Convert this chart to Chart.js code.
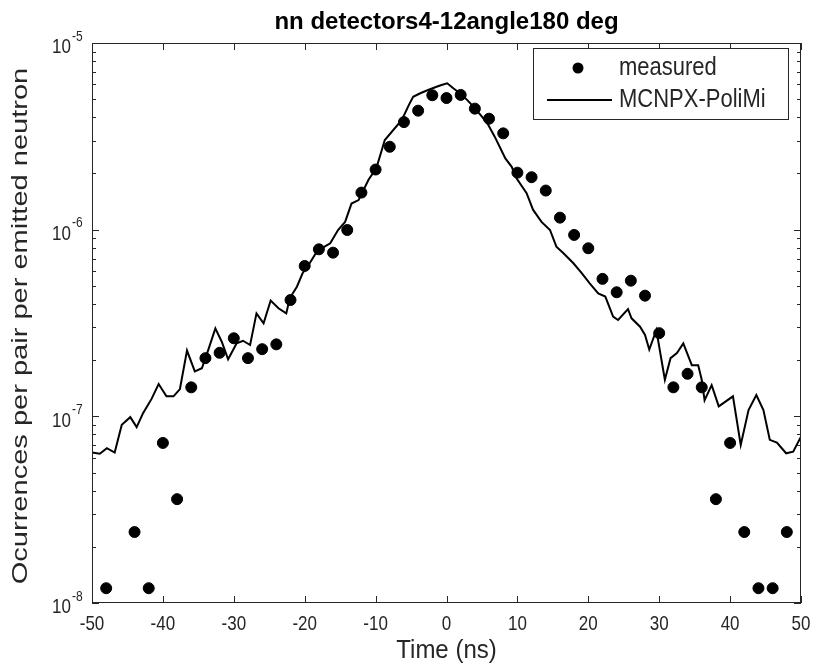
<!DOCTYPE html>
<html>
<head>
<meta charset="utf-8">
<script src="https://cdn.jsdelivr.net/npm/chart.js@4.4.1/dist/chart.umd.min.js"></script>
<style>
  body { margin: 0; background: #fff; }
  #wrap { width: 817px; height: 670px; }
</style>
</head>
<body>
<div id="wrap"><canvas id="tofChart" width="817" height="670"></canvas></div>
<script>
// measured points (every 2 ns, empty bins not shown on log axis)
const measuredTime = [-48, -44, -42, -40, -38, -36, -34, -32, -30, -28, -26, -24, -22,
    -20, -18, -16, -14, -12, -10, -8, -6, -4, -2, 0, 2, 4, 6, 8, 10, 12, 14, 16, 18, 20,
    22, 24, 26, 28, 30, 32, 34, 36, 38, 40, 42, 44, 46, 48]
const measuredValue = [1.2e-8, 2.4e-8, 1.2e-8, 7.2e-8, 3.6e-8, 1.43e-7, 2.05e-7, 2.19e-7, 2.62e-7, 2.05e-7, 2.29e-7, 2.43e-7, 4.2e-7,
    6.39e-7, 7.85e-7, 7.53e-7, 9.96e-7, 1.58e-6, 2.10e-6, 2.78e-6, 3.77e-6, 4.34e-6, 5.25e-6, 5.07e-6, 5.27e-6, 4.45e-6, 3.93e-6, 3.28e-6, 2.02e-6, 1.91e-6, 1.62e-6, 1.16e-6, 9.37e-7, 7.95e-7,
    5.45e-7, 4.62e-7, 5.33e-7, 4.43e-7, 2.79e-7, 1.43e-7, 1.69e-7, 1.43e-7, 3.6e-8, 7.2e-8, 2.4e-8, 1.2e-8, 1.2e-8, 2.4e-8]

// simulation curve
const simTime = [-50, -48.9, -47.9, -46.8, -45.8, -44.6, -43.7, -42.8, -41.6, -40.6, -39.5, -38.5, -37.6, -36.6, -35.5, -34.5,
    -33.6, -32.6, -31.7, -30.8, -29.6, -28.7, -27.7, -26.8, -25.8, -24.8, -23.7, -22.6, -22.1, -21.1, -20.3, -19.3,
    -18.3, -17.2, -16.4, -15.3, -14.3, -13.4, -12.4, -11.0, -9.9, -8.7, -6.3, -5.3, -4.7, -3.7, -2.6, -1.4, -0.7,
    0.1, 1.0, 1.9, 2.9, 3.8, 5.0, 5.9, 6.8, 7.6, 8.3, 9.2, 9.9, 11.3, 12.2, 13.4, 14.6, 15.5, 16.5, 17.9, 19.1,
    20.2, 21.4, 22.4, 23.5, 24.2, 25.6, 26.1, 27.3, 28.0, 28.6, 29.6, 30.8, 31.6, 32.5, 33.4, 34.6, 35.5, 36.0,
    36.4, 37.4, 38.4, 40.4, 41.5, 42.6, 43.7, 44.7, 45.6, 46.6, 47.9, 48.9, 50]
const simValue = [6.4e-8, 6.3e-8, 6.75e-8, 6.4e-8, 9.0e-8, 9.9e-8, 8.75e-8, 1.04e-7, 1.24e-7, 1.49e-7, 1.28e-7, 1.28e-7, 1.40e-7, 2.25e-7, 1.74e-7, 1.81e-7,
    2.27e-7, 2.96e-7, 2.51e-7, 2.02e-7, 2.46e-7, 2.54e-7, 2.41e-7, 3.56e-7, 3.15e-7, 4.17e-7, 3.79e-7, 3.56e-7, 4.30e-7, 4.95e-7, 5.84e-7, 6.61e-7,
    7.62e-7, 8.11e-7, 8.45e-7, 9.96e-7, 1.10e-6, 1.38e-6, 1.44e-6, 1.85e-6, 2.13e-6, 3.02e-6, 3.87e-6, 4.66e-6, 5.15e-6, 5.38e-6, 5.60e-6, 5.83e-6, 5.96e-6,
    6.08e-6, 5.71e-6, 5.38e-6, 4.96e-6, 4.56e-6, 4.03e-6, 3.64e-6, 3.15e-6, 2.73e-6, 2.41e-6, 2.17e-6, 1.88e-6, 1.57e-6, 1.28e-6, 1.10e-6, 9.96e-7, 8.11e-7, 7.48e-7, 6.61e-7, 5.84e-7,
    5.16e-7, 4.56e-7, 4.38e-7, 3.42e-7, 3.28e-7, 3.75e-7, 3.35e-7, 3.02e-7, 2.73e-7, 2.28e-7, 2.90e-7, 1.57e-7, 2.05e-7, 2.18e-7, 2.46e-7, 1.88e-7, 1.88e-7, 1.57e-7,
    1.22e-7, 1.47e-7, 1.13e-7, 1.28e-7, 7.03e-8, 1.08e-7, 1.30e-7, 1.08e-7, 7.48e-8, 7.23e-8, 6.34e-8, 6.47e-8, 7.78e-8]

const xTicks = [-50, -40, -30, -20, -10, 0, 10, 20, 30, 40, 50]
const yDecades = [1e-8, 1e-7, 1e-6, 1e-5]
const seriesNames = ['measured', 'MCNPX-PoliMi']

const axisColor = '#262626'
const fontFamily = '"Liberation Sans", Arial, Helvetica, sans-serif'
// the reference figure is stretched vertically, text looks tall and narrow
const stretch = 1.2

function setFont(ctx, size, bold) {
    ctx.font = (bold ? 'bold ' : '') + size + 'px ' + fontFamily
}

function tallText(ctx, text, x, y, sy) {
    ctx.save()
    ctx.translate(x, y)
    ctx.scale(1, sy)
    ctx.fillText(text, 0, 0)
    ctx.restore()
}

// matlab-like axes: box, inward ticks, labels, title, legend
const matlabAxes = {
    id: 'matlabAxes',
    beforeDraw(chart) {
        const ctx = chart.ctx
        ctx.save()
        ctx.fillStyle = '#fff'
        ctx.fillRect(0, 0, chart.width, chart.height)
        ctx.restore()
    },
    afterDatasetsDraw(chart) {
        const ctx = chart.ctx
        const a = chart.chartArea
        const xs = chart.scales.x
        const ys = chart.scales.y
        ctx.save()
        ctx.strokeStyle = axisColor
        ctx.lineWidth = 1

        // box
        ctx.strokeRect(Math.round(a.left) + 0.5, Math.round(a.top) + 0.5,
            Math.round(a.right - a.left) - 1, Math.round(a.bottom - a.top) - 1)

        ctx.beginPath()
        xTicks.forEach(v => {
            const px = Math.round(xs.getPixelForValue(v)) + 0.5
            ctx.moveTo(px, a.bottom); ctx.lineTo(px, a.bottom - 7)
            ctx.moveTo(px, a.top); ctx.lineTo(px, a.top + 7)
        })
        yDecades.forEach((d, i) => {
            const py = Math.round(ys.getPixelForValue(d)) + 0.5
            ctx.moveTo(a.left, py); ctx.lineTo(a.left + 7, py)
            ctx.moveTo(a.right, py); ctx.lineTo(a.right - 7, py)
            if (i < yDecades.length - 1) {
                for (let m = 2; m <= 9; m++) {
                    const pm = Math.round(ys.getPixelForValue(d * m)) + 0.5
                    ctx.moveTo(a.left, pm); ctx.lineTo(a.left + 4, pm)
                    ctx.moveTo(a.right, pm); ctx.lineTo(a.right - 4, pm)
                }
            }
        })
        ctx.stroke()

        // tick labels
        ctx.fillStyle = axisColor
        ctx.textBaseline = 'middle'
        ctx.textAlign = 'center'
        setFont(ctx, 17)
        xTicks.forEach(v => {
            tallText(ctx, String(v), xs.getPixelForValue(v), a.bottom + 22, 1.15)
        })
        yDecades.forEach(d => {
            const py = ys.getPixelForValue(d)
            const exp = Math.round(Math.log10(d))
            setFont(ctx, 17)
            ctx.textAlign = 'right'
            tallText(ctx, '10', 71, py + 5, 1.15)
            setFont(ctx, 12)
            ctx.textAlign = 'left'
            tallText(ctx, String(exp), 72, py - 6, 1.15)
        })

        // axis titles
        ctx.fillStyle = axisColor
        setFont(ctx, 24)
        ctx.textAlign = 'center'
        tallText(ctx, 'Time (ns)', (a.left + a.right) / 2, 651, 1.1)
        setFont(ctx, 22)
        ctx.save()
        ctx.translate(21, (a.top + a.bottom) / 2 + 3)
        ctx.rotate(-Math.PI / 2)
        ctx.scale(1.32, 1)
        ctx.fillText('Ocurrences per pair per emitted neutron', 0, 0)
        ctx.restore()

        // title
        ctx.fillStyle = '#000'
        setFont(ctx, 24, true)
        tallText(ctx, 'nn detectors4-12angle180 deg', (a.left + a.right) / 2, 22, 1.0)

        // legend
        const lx = 533.5, ly = 48.5, lw = 255, lh = 71
        ctx.fillStyle = '#fff'
        ctx.fillRect(lx, ly, lw, lh)
        ctx.strokeStyle = axisColor
        ctx.strokeRect(lx, ly, lw, lh)
        ctx.fillStyle = '#000'
        ctx.beginPath()
        ctx.arc(578, 68, 5.5, 0, Math.PI * 2)
        ctx.fill()
        ctx.strokeStyle = '#000'
        ctx.lineWidth = 2
        ctx.beginPath()
        ctx.moveTo(547, 100); ctx.lineTo(612, 100)
        ctx.stroke()
        setFont(ctx, 22)
        ctx.fillStyle = axisColor
        ctx.textAlign = 'left'
        tallText(ctx, seriesNames[0], 619, 68, stretch)
        tallText(ctx, seriesNames[1], 619, 100, stretch)
        ctx.restore()
    }
}

const ctxChart = document.getElementById('tofChart').getContext('2d')

new Chart(ctxChart, {
    type: 'scatter',
    data: {
        datasets: [{
            label: seriesNames[0],
            data: measuredTime.map((t, i) => ({ x: t, y: measuredValue[i] })),
            backgroundColor: '#000',
            borderColor: '#000',
            pointRadius: 5.5,
            pointHoverRadius: 5.5,
            showLine: false,
            order: 0
        }, {
            label: seriesNames[1],
            data: simTime.map((t, i) => ({ x: t, y: simValue[i] })),
            borderColor: '#000',
            borderWidth: 2,
            pointRadius: 0,
            showLine: true,
            tension: 0,
            order: 1
        }]
    },
    options: {
        responsive: false,
        animation: false,
        events: [],
        layout: {
            padding: { left: 92, top: 43, right: 16, bottom: 67 }
        },
        plugins: {
            legend: { display: false },
            title: { display: false },
            tooltip: { enabled: false }
        },
        scales: {
            x: { type: 'linear', min: -50, max: 50, display: false },
            y: { type: 'logarithmic', min: 1e-8, max: 1e-5, display: false }
        }
    },
    plugins: [matlabAxes]
})
</script>
</body>
</html>
